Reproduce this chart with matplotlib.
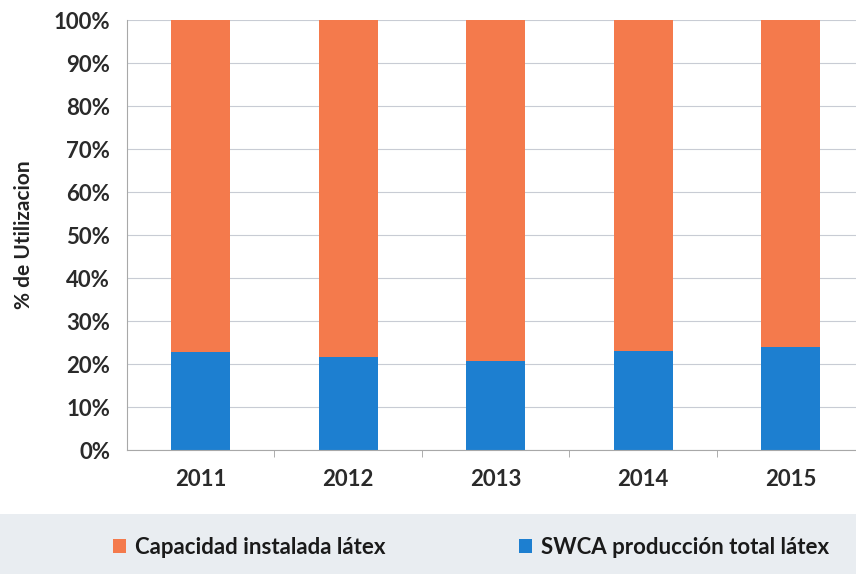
import matplotlib.pyplot as plt
from matplotlib.patches import Rectangle
from matplotlib.ticker import PercentFormatter

# Utilizacion por año (% del total)
years = ["2011", "2012", "2013", "2014", "2015"]
produccion = [22.8, 21.6, 20.7, 23.0, 24.0]
capacidad = [100 - p for p in produccion]

c_orange = "#F47A4C"
c_blue = "#1D7FD0"

plt.rcParams["font.family"] = ["Lato", "DejaVu Sans"]

fig = plt.figure(figsize=(8.56, 5.74), dpi=100)

# banda del fondo de la leyenda
fig.patches.append(Rectangle((0, 0), 1, 0.105, transform=fig.transFigure,
                             facecolor="#E9EDF1", edgecolor="none", zorder=0))

ax = fig.add_axes([0.148, 0.216, 0.862, 0.749])
x = range(len(years))
ax.bar(x, produccion, width=0.4, color=c_blue, label="SWCA producción total látex", zorder=2)
ax.bar(x, capacidad, width=0.4, bottom=produccion, color=c_orange,
       label="Capacidad instalada látex", zorder=2)

ax.set_xlim(-0.5, len(years) - 0.5)
ax.set_ylim(0, 100)
ax.set_yticks(range(0, 101, 10))
ax.yaxis.set_major_formatter(PercentFormatter(decimals=0))
ax.grid(axis="y", color="#C8CCD4", linewidth=0.8, zorder=0)

ax.set_xticks(list(x))
ax.set_xticklabels(years)
ax.set_xticks([i + 0.5 for i in range(len(years) - 1)], minor=True)
ax.tick_params(axis="x", which="major", length=0, pad=14, labelsize=16, colors="#2A2A2A")
ax.tick_params(axis="x", which="minor", length=5, color="#A0A0A0")
ax.tick_params(axis="y", length=0, pad=12, labelsize=16, colors="#2A2A2A")
for lab in ax.get_yticklabels() + ax.get_xticklabels():
    lab.set_fontweight("bold")

for s in ["top", "right"]:
    ax.spines[s].set_visible(False)
ax.spines["left"].set_color("#A8A8A8")
ax.spines["bottom"].set_color("#A8A8A8")

ax.set_ylabel("% de Utilizacion", fontsize=15, fontweight="bold", color="#222222")
ax.yaxis.set_label_coords(-0.125, 0.5)

h, l = ax.get_legend_handles_labels()
leg = fig.legend(h[::-1], l[::-1], loc="center", bbox_to_anchor=(0.55, 0.047), ncol=2,
                 frameon=False, prop={"size": 16, "weight": "bold"}, handlelength=0.6,
                 handleheight=0.6, columnspacing=6, handletextpad=0.4)
for t in leg.get_texts():
    t.set_color("#1A1A1A")

plt.savefig("out.png", dpi=100)
